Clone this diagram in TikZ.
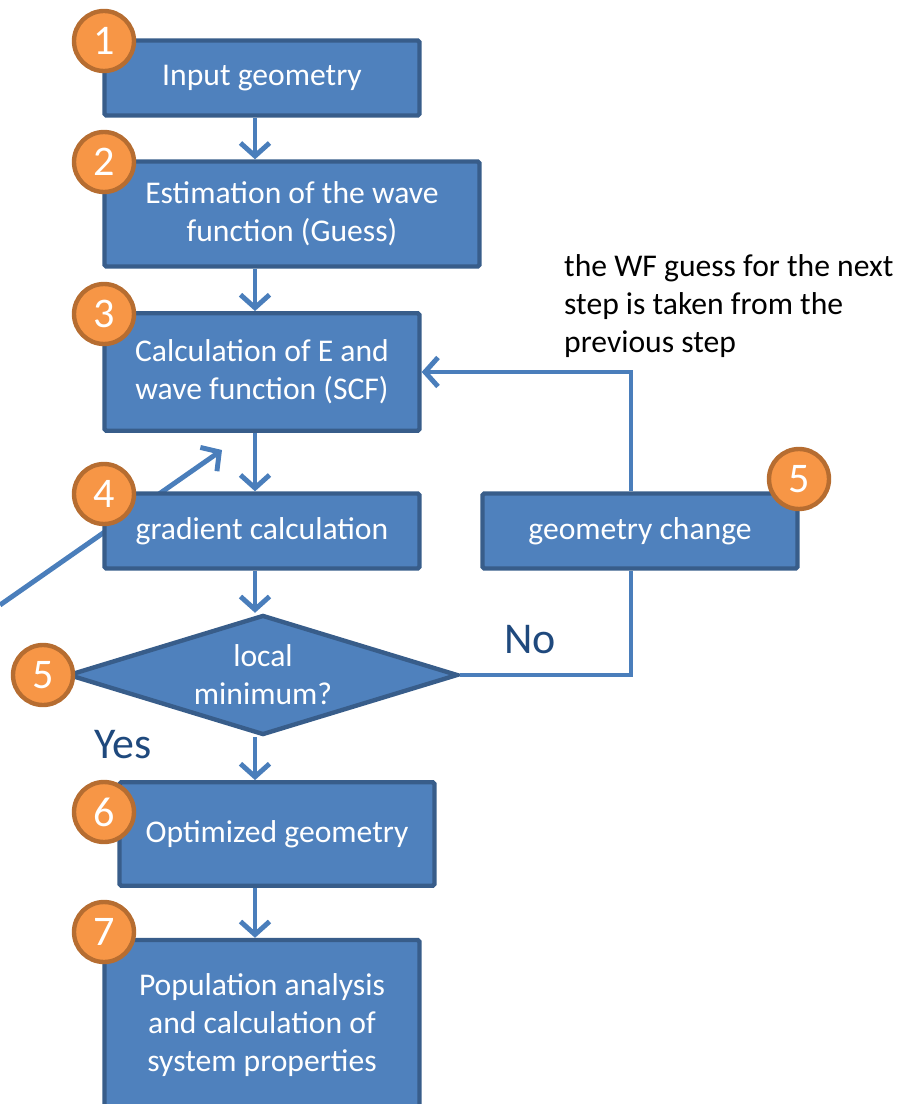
\documentclass[tikz,border=0pt]{standalone}
\usepackage{fontspec}
\setmainfont{Carlito}
\usepackage{tikz}
\usetikzlibrary{positioning,arrows.meta,shapes.geometric,backgrounds}
\definecolor{boxblue}{HTML}{4F81BD}
\definecolor{boxedge}{HTML}{385D8A}
\definecolor{lineblue}{HTML}{4A7EBB}
\definecolor{badgeorange}{HTML}{F79646}
\definecolor{badgeedge}{HTML}{B66D31}
\definecolor{answerblue}{HTML}{1F497D}

\begin{document}
\begin{tikzpicture}[x=0.02cm,y=-0.02cm]

	\tikzstyle{block} = [rectangle, draw=boxedge, fill=boxblue, line width=2.5pt,
    		text=white, align=center, font=\fontsize{18}{21.5}\selectfont,
    		rounded corners=1pt, minimum width=6.3cm, minimum height=1.5cm, inner sep=0pt]
	\tikzstyle{decision} = [diamond, draw=boxedge, fill=boxblue, line width=2.5pt,
    		text=white, align=center, font=\fontsize{18}{21.5}\selectfont,
    		aspect=3.2, minimum width=7.8cm, minimum height=2.4cm, inner sep=0pt]
	\tikzstyle{badge} = [circle, draw=badgeedge, fill=badgeorange, line width=2.5pt,
    		text=white, font=\fontsize{24}{24}\selectfont, minimum size=1.2cm, inner sep=0pt]
	\tikzstyle{plaintext} = [draw=none, fill=none, align=left, font=\fontsize{18}{21.5}\selectfont]
	\tikzstyle{answer} = [draw=none, fill=none, text=answerblue, font=\fontsize{25}{25}\selectfont]
	\tikzstyle{link} = [draw=lineblue, line width=2.8pt]
	\tikzstyle{line} = [link, -{Straight Barb[length=2.6mm,width=5.8mm]}]

    \clip (0,0) rectangle (899,1104);

    % Place nodes
    \node [block] at (262, 78) (input) {Input geometry};
    \node [block, minimum width=7.5cm, minimum height=2.1cm] at (292, 214) (guess) {Estimation of the wave\\function (Guess)};
    \node [block, minimum height=2.35cm] at (262, 372) (scf) {Calculation of E and\\wave function (SCF)};
    \node [block] at (262, 531) (gradient) {gradient calculation};
    \node [block] at (640, 531) (change) {geometry change};
    \node [decision] at (263, 675) (minimum) {local\\minimum?};
    \node [block, minimum height=2.07cm] at (277, 834) (optimized) {Optimized geometry};
    \node [block, minimum height=3.4cm] at (262, 1025) (population) {Population analysis\\and calculation of\\system properties};

    \node [plaintext, anchor=west] at (558, 306) (note) {the WF guess for the next\\step is taken from the\\previous step};
    \node [answer] at (530, 640) (no) {No};
    \node [answer] at (123, 745) (yes) {Yes};

    \coordinate (spine) at (255, 0);
    \coordinate (outside) at (0, 605);
    \coordinate (back) at (222, 450);

    % Draw edges
    \path [line] (input.south -| spine) -- (guess.north -| spine);
    \path [line] (guess.south -| spine) -- (scf.north -| spine);
    \path [line] (scf.south -| spine) -- (gradient.north -| spine);
    \path [line] (gradient.south -| spine) -- (minimum.north -| spine);
    \path [line] (minimum.south -| spine) -- (optimized.north -| spine);
    \path [line] (optimized.south -| spine) -- (population.north -| spine);
    \path [link] (minimum.east) -| ([xshift=-0.18cm]change.south);
    \path [line] ([xshift=-0.18cm]change.north) |- (scf.east);
    \begin{pgfonlayer}{background}
    \path [line] (outside) -- (back);
    \end{pgfonlayer}

    % Badges
    \node [badge] at (104, 41) (n1) {1};
    \node [badge] at (104, 162) (n2) {2};
    \node [badge] at (104, 314) (n3) {3};
    \node [badge] at (104, 494) (n4) {4};
    \node [badge] at (43, 675) (n5) {5};
    \node [badge] at (799, 479) (n5b) {5};
    \node [badge] at (104, 812) (n6) {6};
    \node [badge] at (104, 932) (n7) {7};
\end{tikzpicture}
\end{document}
